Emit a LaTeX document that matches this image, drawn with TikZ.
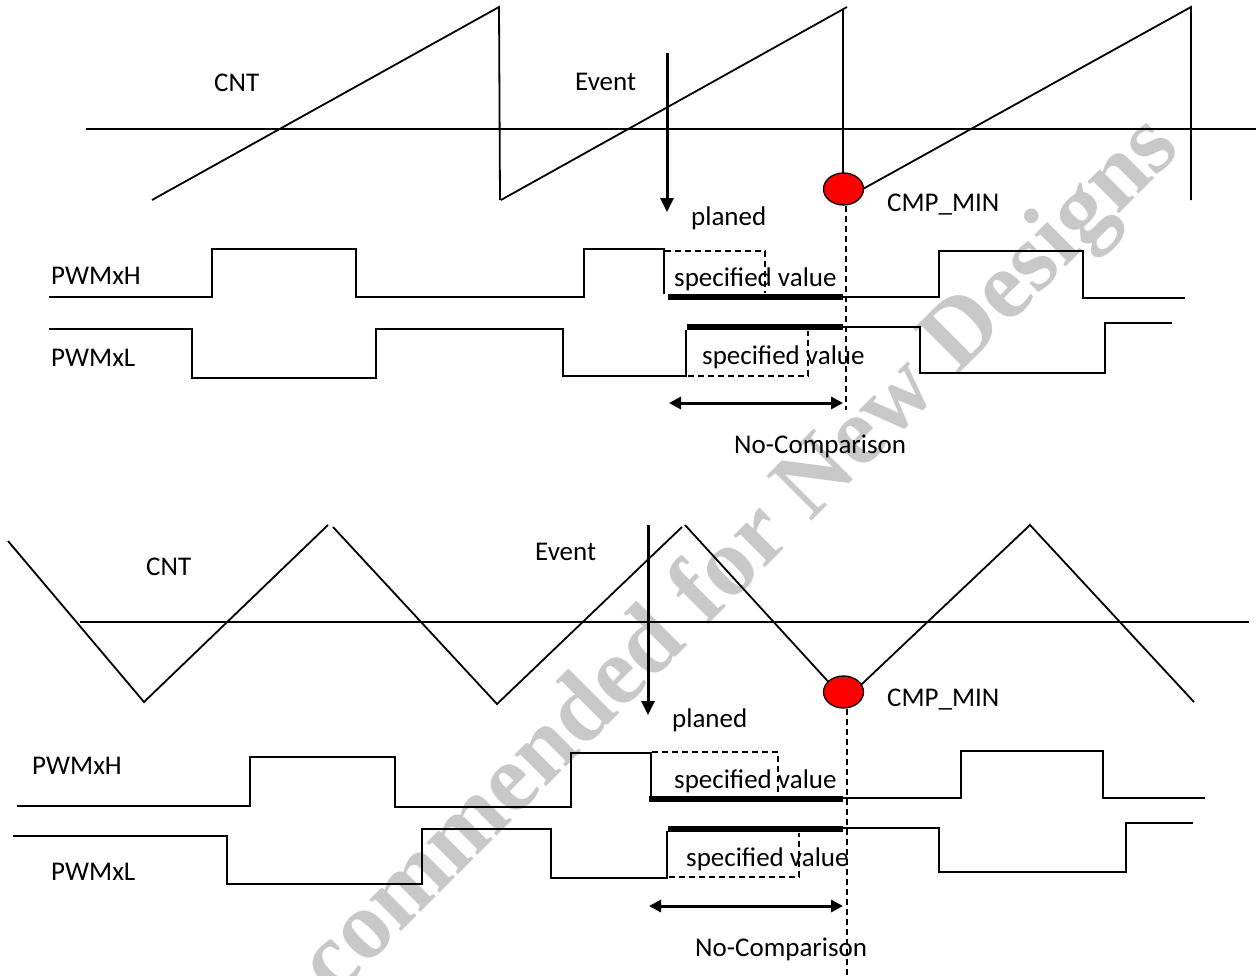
\documentclass[tikz,border=0pt]{standalone}
\usepackage{fontspec}
\setmainfont{Carlito}
\newfontfamily\wmfont{Liberation Serif}
\usetikzlibrary{arrows.meta,shapes.geometric}
\definecolor{wmgray}{RGB}{200,200,200}
\begin{document}
\begin{tikzpicture}[x=1pt,y=-1pt,
  wave/.style={line width=1.8pt, line join=miter},
  axisline/.style={line width=1.8pt},
  bar/.style={line width=6pt},
  dsh/.style={line width=1.3pt, dash pattern=on 6pt off 4pt},
  evarrow/.style={line width=3pt, -{Triangle[length=14pt,width=13pt]}},
  dblarrow/.style={line width=3pt, {Triangle[length=12pt,width=12pt]}-{Triangle[length=12pt,width=12pt]}},
  lbl/.style={font=\fontsize{27}{32}\selectfont, inner sep=0pt, anchor=base west},
  cmp/.style={ellipse, draw=black, fill=red, line width=1.3pt, minimum width=40pt, minimum height=32pt, inner sep=0pt},
  wm/.style={font=\wmfont\bfseries\fontsize{97}{100}\selectfont, text=wmgray, rotate=45, inner sep=0pt}]
\useasboundingbox (0,0) rectangle (1256,975);
% watermark
\begin{scope}
  \clip (0,0) rectangle (1256,975);
  \node[wm] (wm) at (742,558) {commended for New Designs};
\end{scope}

% ================= TOP: sawtooth =================
\draw[axisline] (86,129) -- (1256,129);
\draw[wave] (152,200) -- (499,7) -- (500,200);
\draw[wave] (501,200) -- (847,7);
\draw[wave] (843,10) -- (843,180);
\draw[wave] (843,200) -- (1191,7) -- (1191,200);
\node[cmp] (c1) at (843.5,189) {};
\draw[dsh] (c1.south) ++(2.5,0) coordinate (d1s) -- (d1s |- 0,410) coordinate (d1e);

\coordinate (ev1s) at (667,53);
\coordinate (ev1e) at (667,212);
\draw[evarrow] (ev1s) -- (ev1e);

\node[lbl] (cnt1) at (214,91) {CNT};
\node[lbl] (evt1) at (575,90) {Event};
\node[lbl] (pl1) at (691,225) {planed};
\node[lbl] (cm1) at (887,211) {CMP\_MIN};
\node[lbl] (h1) at (51,284) {PWMxH};
\node[lbl] (l1) at (51,366) {PWMxL};

% PWMxH top
\draw[wave] (49,297) -- (212,297) -- (212,249) -- (356,249) -- (356,297) -- (584,297) -- (584,249) -- (664,249) -- (664,294);
\draw[bar] (668,297) -- (843,297);
\draw[wave] (843,297) -- (939,297) -- (939,251) -- (1083,251) -- (1083,298) -- (1185,298);
\draw[dsh] (665,251) -- (765,251) -- (765,293);
\node[lbl] (sv1) at (674,286) {specified value};

% PWMxL top
\draw[wave] (49,329) -- (192,329) -- (192,378) -- (376,378) -- (376,329) -- (563,329) -- (563,376) -- (686,376) -- (686,330);
\draw[bar] (687,327) -- (843,327);
\draw[wave] (843,327) -- (920,327) -- (920,373) -- (1105,373) -- (1105,323) -- (1172,323);
\draw[dsh] (688,376) -- (808,376) -- (808,331);
\node[lbl] (sv2) at (702,364) {specified value};

\coordinate (nc1a) at (669,403);
\coordinate (nc1b) at (843,403);
\draw[dblarrow] (nc1a) -- (nc1b);
\node[lbl] (nc1) at (734,453) {No-Comparison};

% ================= BOTTOM: triangle =================
\draw[axisline] (80,622) -- (1249,622);
\draw[wave] (8,541) -- (144,702) -- (328,525);
\draw[wave] (333,527) -- (497,704) -- (682,527);
\draw[wave] (685,525) -- (845,700) -- (1030,525) -- (1194,702);
\node[cmp] (c2) at (843.5,692) {};
\draw[dsh] (c2.south) ++(3.5,0) coordinate (d2s) -- (d2s |- 0,975) coordinate (d2e);

\coordinate (ev2s) at (648,525);
\coordinate (ev2e) at (648,715);
\draw[evarrow] (ev2s) -- (ev2e);

\node[lbl] (cnt2) at (146,575) {CNT};
\node[lbl] (evt2) at (535,560) {Event};
\node[lbl] (pl2) at (672,727) {planed};
\node[lbl] (cm2) at (887,706) {CMP\_MIN};
\node[lbl] (h2) at (32,774) {PWMxH};
\node[lbl] (l2) at (51,880) {PWMxL};

% PWMxH bottom
\draw[wave] (17,806) -- (250,806) -- (250,757) -- (395,757) -- (395,807) -- (571,807) -- (571,753) -- (651,753) -- (651,797);
\draw[bar] (649,799) -- (843,799);
\draw[wave] (843,798) -- (961,798) -- (961,751) -- (1103,751) -- (1103,798) -- (1205,798);
\draw[dsh] (652,752) -- (778,752) -- (778,795);
\node[lbl] (sv3) at (674,788) {specified value};

% PWMxL bottom
\draw[wave] (13,836) -- (227,836) -- (227,884) -- (422,884) -- (422,829) -- (551,829) -- (551,878) -- (667,878) -- (667,831);
\draw[bar] (668,829) -- (843,829);
\draw[wave] (843,828) -- (939,828) -- (939,872) -- (1126,872) -- (1126,823) -- (1193,823);
\draw[dsh] (669,877) -- (799,877) -- (799,833);
\node[lbl] (sv4) at (686,866) {specified value};

\coordinate (nc2a) at (649,906);
\coordinate (nc2b) at (843,906);
\draw[dblarrow] (nc2a) -- (nc2b);
\node[lbl] (nc2) at (695,956) {No-Comparison};
\end{tikzpicture}
\end{document}
